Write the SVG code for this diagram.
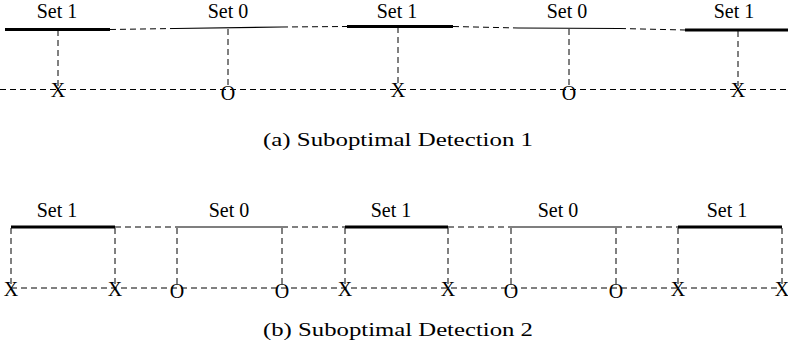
<svg xmlns="http://www.w3.org/2000/svg" width="788" height="350" viewBox="0 0 788 350">
<style>
.lbl{font-family:"Liberation Serif",serif;font-size:20px;text-anchor:middle;fill:#000}
.mk{font-family:"Liberation Serif",serif;font-size:20px;text-anchor:middle;fill:#000}
.cap{font-family:"Liberation Serif",serif;font-size:19px;text-anchor:middle;fill:#000}
.b1{stroke:#000;stroke-width:3;fill:none}
.b0{stroke:#000;stroke-width:1.2;fill:none}
.d{stroke:#000;stroke-width:1;stroke-dasharray:6 4;fill:none}
</style>
<rect width="788" height="350" fill="#fff"/>
<g id="connectors">
<line class="d" x1="110" y1="29.5" x2="175" y2="28.5"/>
<line class="d" x1="282" y1="27" x2="347" y2="26.5"/>
<line class="d" x1="453" y1="26.5" x2="518" y2="28"/>
<line class="d" x1="620" y1="28.5" x2="685" y2="30"/>
<line class="d" x1="0" y1="89.5" x2="788" y2="89.5"/>
<line class="d" x1="58" y1="30" x2="58" y2="86"/>
<line class="d" x1="228" y1="29" x2="228" y2="87"/>
<line class="d" x1="398" y1="27" x2="398" y2="86"/>
<line class="d" x1="569" y1="29" x2="569" y2="87"/>
<line class="d" x1="738" y1="31" x2="738" y2="86"/>
<line class="d" x1="115" y1="227" x2="177" y2="227"/>
<line class="d" x1="282" y1="227" x2="345" y2="227"/>
<line class="d" x1="448" y1="227" x2="511" y2="227"/>
<line class="d" x1="616" y1="227" x2="678" y2="227"/>
<line class="d" x1="11" y1="288" x2="782" y2="288"/>
<line class="d" x1="11" y1="228" x2="11" y2="284"/>
<line class="d" x1="115" y1="228" x2="115" y2="284"/>
<line class="d" x1="177" y1="228" x2="177" y2="285"/>
<line class="d" x1="282" y1="228" x2="282" y2="285"/>
<line class="d" x1="345" y1="228" x2="345" y2="284"/>
<line class="d" x1="448" y1="228" x2="448" y2="284"/>
<line class="d" x1="511" y1="228" x2="511" y2="285"/>
<line class="d" x1="616" y1="228" x2="616" y2="285"/>
<line class="d" x1="678" y1="228" x2="678" y2="284"/>
<line class="d" x1="782" y1="228" x2="782" y2="284"/>
</g>
<g id="a-set1-1"><line class="b1" x1="5" y1="29.5" x2="110" y2="29.5"/><text class="lbl" x="57" y="18">Set 1</text><text class="mk" x="58" y="97">X</text></g>
<g id="a-set0-1"><line class="b0" x1="175" y1="28.5" x2="282" y2="27"/><text class="lbl" x="228" y="18">Set 0</text><text class="mk" x="228" y="100">O</text></g>
<g id="a-set1-2"><line class="b1" x1="347" y1="26.5" x2="453" y2="26.5"/><text class="lbl" x="397" y="18">Set 1</text><text class="mk" x="398" y="97">X</text></g>
<g id="a-set0-2"><line class="b0" x1="518" y1="28" x2="620" y2="28.5"/><text class="lbl" x="567" y="18">Set 0</text><text class="mk" x="569" y="100">O</text></g>
<g id="a-set1-3"><line class="b1" x1="685" y1="30" x2="790" y2="30"/><text class="lbl" x="734" y="18">Set 1</text><text class="mk" x="738" y="97">X</text></g>
<g id="caption-a"><text class="cap" x="398" y="146" textLength="270" lengthAdjust="spacingAndGlyphs">(a) Suboptimal Detection 1</text></g>
<g id="b-set1-1"><line class="b1" x1="11" y1="227" x2="115" y2="227"/><text class="lbl" x="57" y="217">Set 1</text><text class="mk" x="11" y="295.5">X</text><text class="mk" x="115" y="295.5">X</text></g>
<g id="b-set0-1"><line class="b0" x1="177" y1="227" x2="282" y2="227"/><text class="lbl" x="229" y="217">Set 0</text><text class="mk" x="177" y="297.5">O</text><text class="mk" x="282" y="297.5">O</text></g>
<g id="b-set1-2"><line class="b1" x1="345" y1="227" x2="448" y2="227"/><text class="lbl" x="391" y="217">Set 1</text><text class="mk" x="345" y="295.5">X</text><text class="mk" x="448" y="295.5">X</text></g>
<g id="b-set0-2"><line class="b0" x1="511" y1="227" x2="616" y2="227"/><text class="lbl" x="558" y="217">Set 0</text><text class="mk" x="511" y="297.5">O</text><text class="mk" x="616" y="297.5">O</text></g>
<g id="b-set1-3"><line class="b1" x1="678" y1="227" x2="782" y2="227"/><text class="lbl" x="727" y="217">Set 1</text><text class="mk" x="678" y="295.5">X</text><text class="mk" x="782" y="295.5">X</text></g>
<g id="caption-b"><text class="cap" x="398" y="336" textLength="270" lengthAdjust="spacingAndGlyphs">(b) Suboptimal Detection 2</text></g>
</svg>
